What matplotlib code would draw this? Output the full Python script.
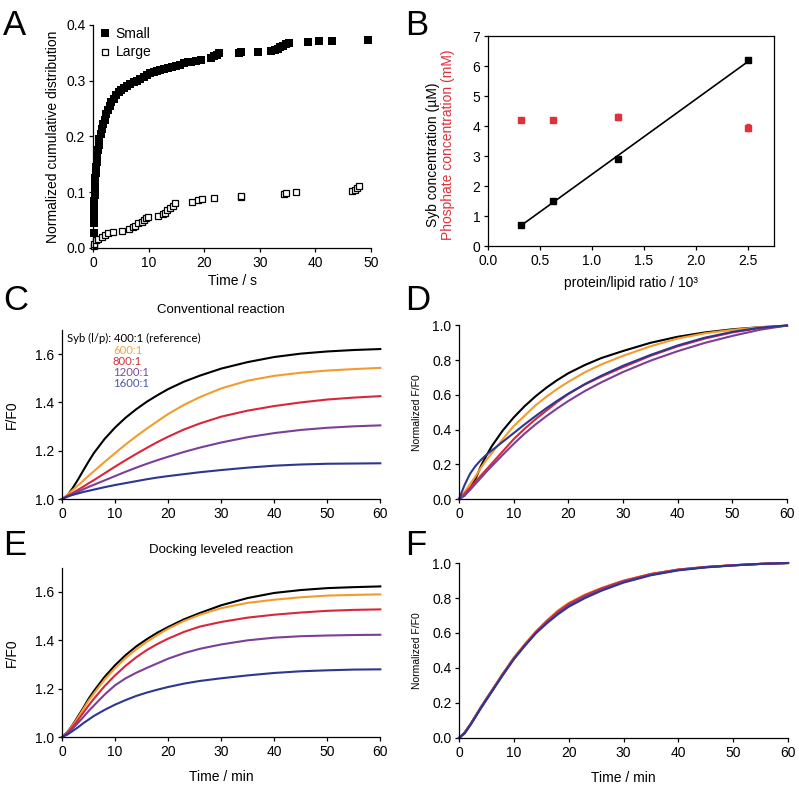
#
# Imports
#
import numpy as np
import matplotlib
matplotlib.use('Agg')
from matplotlib import pyplot as plt

plt.rcParams['font.family'] = ['Liberation Sans', 'DejaVu Sans']
plt.rcParams['font.size'] = 10
plt.rcParams['axes.linewidth'] = 0.9
plt.rcParams['xtick.major.width'] = 0.9
plt.rcParams['ytick.major.width'] = 0.9
plt.rcParams['xtick.major.size'] = 3
plt.rcParams['ytick.major.size'] = 3
plt.rcParams['xtick.major.pad'] = 2.5
plt.rcParams['ytick.major.pad'] = 2.5

#
# Data
#

# Panel A - cumulative distribution (time in s)
small_t = [0.15, 0.15, 0.17, 0.2, 0.22, 0.25, 0.28, 0.3, 0.35, 0.4, 0.45, 0.55, 0.65, 0.75,
           0.85, 1.0, 1.15, 1.35, 1.6, 1.85, 2.1, 2.4, 2.7, 3.0, 3.3, 3.7, 4.1, 4.6, 5.1,
           5.6, 6.1, 6.7, 7.3, 7.9, 8.5, 9.1, 9.7, 10.3, 10.9, 11.5, 12.1, 12.8, 13.5, 14.2,
           14.9, 15.6, 16.3, 17.0, 17.7, 18.6, 19.4, 21.3, 21.8, 22.3, 22.7, 26.2, 26.6,
           29.6, 32.0, 32.7, 33.2, 33.7, 34.2, 34.7, 35.2, 38.7, 40.7, 42.9, 49.5]
small_y = [0.027, 0.045, 0.055, 0.065, 0.075, 0.085, 0.095, 0.105, 0.115, 0.125, 0.135, 0.145,
           0.155, 0.165, 0.175, 0.185, 0.195, 0.205, 0.213, 0.222, 0.23, 0.24, 0.248, 0.255,
           0.262, 0.268, 0.274, 0.279, 0.283, 0.287, 0.29, 0.294, 0.297, 0.3, 0.304, 0.307,
           0.311, 0.313, 0.315, 0.317, 0.319, 0.321, 0.323, 0.325, 0.327, 0.329, 0.331, 0.333,
           0.334, 0.335, 0.337, 0.341, 0.344, 0.347, 0.349, 0.349, 0.351, 0.351, 0.353, 0.355,
           0.357, 0.36, 0.363, 0.366, 0.368, 0.369, 0.371, 0.372, 0.373]
large_t = [0.1, 0.18, 0.54, 0.96, 1.56, 2.16, 2.76, 3.66, 5.15, 6.53, 7.25, 7.55, 8.15, 8.75,
           9.17, 9.53, 9.95, 11.75, 12.53, 12.95, 13.37, 13.85, 14.33, 14.75, 17.75, 18.95,
           19.55, 21.8, 26.6, 26.6, 34.3, 34.7, 36.5, 46.5, 47.1, 47.5, 47.9]
large_y = [0.004, 0.008, 0.014, 0.017, 0.02, 0.023, 0.026, 0.029, 0.031, 0.034, 0.037, 0.04,
           0.044, 0.047, 0.05, 0.053, 0.056, 0.057, 0.061, 0.063, 0.068, 0.072, 0.076, 0.08,
           0.083, 0.086, 0.087, 0.089, 0.091, 0.094, 0.097, 0.099, 0.1, 0.102, 0.104, 0.107,
           0.112]

# Panel B - concentrations vs protein/lipid ratio
pl_ratio = [0.3125, 0.625, 1.25, 2.5]
syb_conc = [0.7, 1.5, 2.9, 6.2]
phos_conc = [4.2, 4.22, 4.3, 3.95]
phos_err = [0.05, 0.06, 0.1, 0.13]

# Panels C-F - kinetics (time in min)
t_min = [0, 1, 2, 3, 4, 5, 6, 8, 10, 12, 14, 16, 18, 20, 23, 26, 30, 35, 40, 45, 50, 55, 60]

conv_400 = [1.0, 1.015, 1.045, 1.08, 1.118, 1.155, 1.19, 1.248, 1.296, 1.337, 1.372, 1.403,
            1.43, 1.455, 1.486, 1.511, 1.54, 1.567, 1.588, 1.602, 1.611, 1.617, 1.621]
conv_600 = [1.0, 1.018, 1.037, 1.056, 1.076, 1.096, 1.115, 1.153, 1.19, 1.226, 1.26, 1.292,
            1.322, 1.352, 1.39, 1.422, 1.458, 1.49, 1.51, 1.523, 1.532, 1.538, 1.543]
conv_800 = [1.0, 1.012, 1.025, 1.038, 1.051, 1.065, 1.078, 1.106, 1.134, 1.161, 1.187, 1.212,
            1.236, 1.258, 1.288, 1.313, 1.341, 1.366, 1.385, 1.4, 1.412, 1.42, 1.426]
conv_1200 = [1.0, 1.01, 1.02, 1.03, 1.04, 1.05, 1.059, 1.077, 1.095, 1.113, 1.13, 1.146, 1.161,
             1.175, 1.195, 1.213, 1.234, 1.256, 1.273, 1.286, 1.295, 1.301, 1.305]
conv_1600 = [1.0, 1.01, 1.017, 1.023, 1.029, 1.034, 1.039, 1.049, 1.058, 1.066, 1.074, 1.082,
             1.089, 1.095, 1.103, 1.111, 1.12, 1.13, 1.138, 1.143, 1.146, 1.147, 1.148]

convn_400 = [0, 0.02, 0.06, 0.115, 0.19, 0.25, 0.305, 0.395, 0.47, 0.535, 0.592, 0.642, 0.686,
             0.725, 0.772, 0.812, 0.853, 0.9, 0.935, 0.96, 0.978, 0.99, 0.998]
convn_600 = [0, 0.04, 0.085, 0.13, 0.18, 0.225, 0.265, 0.345, 0.42, 0.48, 0.54, 0.59, 0.635,
             0.675, 0.73, 0.775, 0.825, 0.88, 0.925, 0.955, 0.975, 0.99, 1.0]
convn_800 = [0, 0.03, 0.065, 0.1, 0.135, 0.17, 0.205, 0.275, 0.345, 0.405, 0.46, 0.51, 0.56,
             0.605, 0.66, 0.705, 0.76, 0.825, 0.88, 0.925, 0.96, 0.985, 1.0]
convn_1200 = [0, 0.02, 0.052, 0.087, 0.122, 0.157, 0.19, 0.255, 0.318, 0.377, 0.43, 0.478,
              0.523, 0.565, 0.622, 0.672, 0.732, 0.797, 0.852, 0.9, 0.94, 0.975, 1.0]
convn_1600 = [0, 0.08, 0.145, 0.19, 0.225, 0.255, 0.28, 0.33, 0.38, 0.43, 0.478, 0.524, 0.567,
              0.607, 0.662, 0.71, 0.768, 0.83, 0.885, 0.93, 0.963, 0.987, 1.0]

dock_400 = [1.0, 1.02, 1.05, 1.085, 1.12, 1.158, 1.19, 1.248, 1.297, 1.339, 1.375, 1.405, 1.432,
            1.455, 1.487, 1.513, 1.545, 1.575, 1.596, 1.608, 1.616, 1.62, 1.623]
dock_600 = [1.0, 1.02, 1.048, 1.08, 1.115, 1.15, 1.18, 1.237, 1.285, 1.327, 1.363, 1.394, 1.422,
            1.448, 1.48, 1.506, 1.533, 1.555, 1.568, 1.578, 1.585, 1.588, 1.59]
dock_800 = [1.0, 1.018, 1.042, 1.07, 1.1, 1.13, 1.158, 1.21, 1.255, 1.295, 1.33, 1.36, 1.385,
            1.407, 1.435, 1.457, 1.476, 1.494, 1.506, 1.515, 1.522, 1.526, 1.528]
dock_1200 = [1.0, 1.015, 1.035, 1.058, 1.082, 1.107, 1.13, 1.175, 1.214, 1.243, 1.266, 1.286,
             1.305, 1.324, 1.347, 1.365, 1.383, 1.4, 1.411, 1.417, 1.42, 1.422, 1.423]
dock_1600 = [1.0, 1.01, 1.025, 1.04, 1.057, 1.072, 1.087, 1.112, 1.134, 1.153, 1.17, 1.184,
             1.196, 1.207, 1.221, 1.232, 1.243, 1.255, 1.265, 1.272, 1.276, 1.279, 1.28]

dockn_400 = [0, 0.03, 0.075, 0.125, 0.177, 0.225, 0.272, 0.367, 0.457, 0.532, 0.602, 0.662,
             0.716, 0.762, 0.812, 0.852, 0.896, 0.936, 0.962, 0.977, 0.987, 0.995, 1.0]
dockn_600 = [0, 0.028, 0.073, 0.124, 0.176, 0.224, 0.272, 0.368, 0.46, 0.538, 0.61, 0.672,
             0.728, 0.772, 0.82, 0.858, 0.9, 0.938, 0.963, 0.978, 0.988, 0.995, 1.0]
dockn_800 = [0, 0.03, 0.074, 0.124, 0.175, 0.223, 0.27, 0.366, 0.456, 0.533, 0.605, 0.667,
             0.722, 0.767, 0.816, 0.855, 0.898, 0.937, 0.962, 0.977, 0.987, 0.995, 1.0]
dockn_1200 = [0, 0.027, 0.072, 0.122, 0.173, 0.221, 0.268, 0.362, 0.452, 0.528, 0.6, 0.66,
              0.713, 0.757, 0.807, 0.847, 0.892, 0.933, 0.96, 0.976, 0.987, 0.995, 1.0]
dockn_1600 = [0, 0.025, 0.07, 0.12, 0.17, 0.218, 0.265, 0.36, 0.45, 0.527, 0.598, 0.655,
              0.706, 0.75, 0.8, 0.842, 0.888, 0.93, 0.958, 0.975, 0.986, 0.995, 1.0]

ratio_labels = ['400:1 (reference)', '600:1', '800:1', '1200:1', '1600:1']
line_colors = ['#000000', '#f39c2e', '#d9263a', '#7b3f98', '#2e3790']
label_colors = ['#000000', '#f2a546', '#d0343f', '#7d4a9c', '#4a5aa2']


#
# Private functions
#

def StyleAxis(ax):
    ax.spines['top'].set_visible(False)
    ax.spines['right'].set_visible(False)
    ax.tick_params(direction='out', labelsize=10)


def PlotKinetics(ax, series, ylim, yticks):
    for y, c in zip(series, line_colors):
        ax.plot(t_min, y, color=c, lw=1.5, clip_on=False)
    ax.set_xlim(0, 60)
    ax.set_ylim(*ylim)
    ax.set_xticks(range(0, 61, 10))
    ax.set_yticks(yticks)
    StyleAxis(ax)


#
# Main
#
if __name__ == "__main__":

    fig = plt.figure(figsize=(7.99, 7.86), dpi=100)

    # A
    axA = fig.add_axes([0.1164, 0.6845, 0.348, 0.2837])
    axA.plot(small_t, small_y, 's', color='black', ms=5.5, mew=0, clip_on=False, label='Small')
    axA.plot(large_t, large_y, 's', mfc='white', mec='black', ms=4.5, mew=0.9,
             clip_on=False, label='Large')
    axA.set_xlim(0, 50)
    axA.set_ylim(0, 0.4)
    axA.set_xticks(range(0, 51, 10))
    axA.set_yticks([0.0, 0.1, 0.2, 0.3, 0.4])
    axA.set_yticklabels(['0.0', '0.1', '0.2', '0.3', '0.4'])
    axA.set_xlabel('Time / s', fontsize=10, labelpad=3)
    axA.set_ylabel('Normalized cumulative distribution', fontsize=10, labelpad=4)
    StyleAxis(axA)
    axA.legend(loc='upper left', bbox_to_anchor=(0.022, 0.99), borderaxespad=0, borderpad=0,
               handlelength=0.8, handletextpad=0.4, labelspacing=0.3, frameon=False,
               fontsize=10)

    # B
    axB = fig.add_axes([0.6108, 0.687, 0.358, 0.267])
    fit = np.polyfit(pl_ratio, syb_conc, 1)
    xfit = np.array([pl_ratio[0], pl_ratio[-1]])
    axB.plot(xfit, np.polyval(fit, xfit), color='black', lw=1.2)
    axB.plot(pl_ratio, syb_conc, 's', color='black', ms=4.5)
    axB.errorbar(pl_ratio, phos_conc, yerr=phos_err, fmt='s', color='#e0303a', ms=4.5,
                 elinewidth=1, capsize=1.5)
    axB.set_xlim(0, 2.75)
    axB.set_ylim(0, 7)
    axB.set_xticks([0.0, 0.5, 1.0, 1.5, 2.0, 2.5])
    axB.set_xticklabels(['0.0', '0.5', '1.0', '1.5', '2.0', '2.5'])
    axB.set_yticks(range(0, 8))
    axB.tick_params(direction='out', labelsize=10)
    axB.set_xlabel('protein/lipid ratio / 10³', fontsize=10, labelpad=6)
    fig.text(0.542, 0.803, 'Syb concentration (µM)', rotation=90, ha='center', va='center',
             fontsize=10, color='black')
    fig.text(0.5607, 0.8155, 'Phosphate concentration (mM)', rotation=90, ha='center',
             va='center', fontsize=10, color='#e0303a')

    # C
    axC = fig.add_axes([0.0776, 0.3651, 0.3984, 0.2151])
    PlotKinetics(axC, [conv_400, conv_600, conv_800, conv_1200, conv_1600], (1.0, 1.7),
                 [1.0, 1.2, 1.4, 1.6])
    axC.set_ylabel('F/F0', fontsize=10, labelpad=12)
    axC.text(0.016, 0.947, 'Syb (l/p): ' + ratio_labels[0], transform=axC.transAxes,
             fontsize=8.2, family='Lato', va='center', color=label_colors[0])
    for i, yy in zip(range(1, 5), [0.876, 0.811, 0.746, 0.683]):
        axC.text(0.16, yy, ratio_labels[i], transform=axC.transAxes, fontsize=8.2,
                 family='Lato', va='center', color=label_colors[i])
    fig.text(0.2766, 0.6056, 'Conventional reaction', ha='center', va='center', fontsize=9.5)

    # D
    axD = fig.add_axes([0.5745, 0.3651, 0.4105, 0.2208])
    PlotKinetics(axD, [convn_400, convn_600, convn_800, convn_1200, convn_1600], (0, 1.0),
                 [0.0, 0.2, 0.4, 0.6, 0.8, 1.0])
    axD.set_ylabel('Normalized F/F0', fontsize=7.5, labelpad=7)

    # E
    axE = fig.add_axes([0.0776, 0.0623, 0.3984, 0.2153])
    PlotKinetics(axE, [dock_400, dock_600, dock_800, dock_1200, dock_1600], (1.0, 1.7),
                 [1.0, 1.2, 1.4, 1.6])
    axE.set_ylabel('F/F0', fontsize=10, labelpad=12)
    axE.set_xlabel('Time / min', fontsize=10, labelpad=8)
    fig.text(0.2766, 0.3003, 'Docking leveled reaction', ha='center', va='center',
             fontsize=9.5)

    # F
    axF = fig.add_axes([0.5745, 0.0611, 0.4118, 0.2226])
    PlotKinetics(axF, [dockn_400, dockn_600, dockn_800, dockn_1200, dockn_1600], (0, 1.0),
                 [0.0, 0.2, 0.4, 0.6, 0.8, 1.0])
    axF.set_ylabel('Normalized F/F0', fontsize=7.5, labelpad=7)
    axF.set_xlabel('Time / min', fontsize=10, labelpad=8)

    # Panel letters
    for x, y, s in [(0.004, 0.9555, 'A'), (0.507, 0.9555, 'B'), (0.004, 0.6056, 'C'),
                    (0.507, 0.6056, 'D'), (0.004, 0.2939, 'E'), (0.507, 0.2939, 'F')]:
        fig.text(x, y, s, fontsize=25, va='baseline', ha='left')

    fig.savefig('out.png', dpi=100)
